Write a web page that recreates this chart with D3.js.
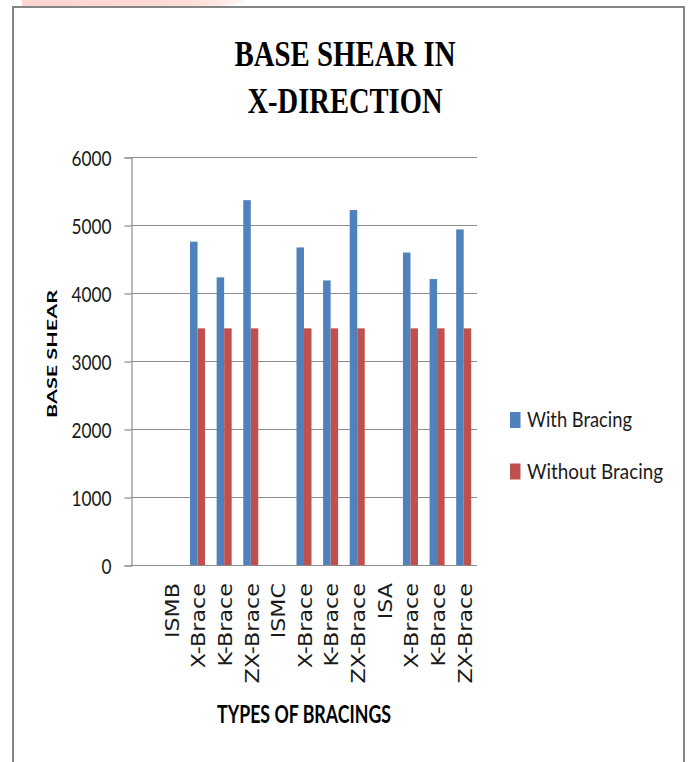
<!DOCTYPE html>
<html>
<head>
<meta charset="utf-8">
<script src="https://cdn.jsdelivr.net/npm/d3@7"></script>
<style>
  html, body { margin: 0; padding: 0; background: #fff; }
  svg { display: block; }
</style>
</head>
<body>
<script>
// ---- data ----
const categories = ["", "ISMB", "X-Brace", "K-Brace", "ZX-Brace", "ISMC", "X-Brace", "K-Brace", "ZX-Brace", "ISA", "X-Brace", "K-Brace", "ZX-Brace"];
const withBracing    = [null, null, 4755, 4230, 5365, null, 4670, 4185, 5220, null, 4595, 4205, 4935];
const withoutBracing = [null, null, 3480, 3480, 3480, null, 3480, 3480, 3480, null, 3480, 3480, 3480];
const seriesNames = ["With Bracing", "Without Bracing"];
const seriesColors = ["#4F81BD", "#C0504D"];
const yTicks = [0, 1000, 2000, 3000, 4000, 5000, 6000];
const titleLines = ["BASE SHEAR IN", "X-DIRECTION"];
const yTitle = "BASE SHEAR";
const xTitle = "TYPES OF BRACINGS";

const W = 689, H = 762;
const svg = d3.select("body").append("svg").attr("width", W).attr("height", H);

// faint header mark along the top edge
const pink = svg.append("defs").append("linearGradient").attr("id", "hdr");
pink.append("stop").attr("offset", "0%").attr("stop-color", "#ffd6cf");
pink.append("stop").attr("offset", "75%").attr("stop-color", "#ffdcd6");
pink.append("stop").attr("offset", "100%").attr("stop-color", "#fff4f2");
svg.append("path")
  .attr("d", "M22,0 L244,0 Q236,6 212,6 L22,6 Z")
  .attr("fill", "url(#hdr)");

// outer frame
const frame = svg.append("g").attr("stroke", "#858585").attr("stroke-width", 2).attr("fill", "none");
frame.append("path").attr("d", `M13,${H} L13,7 L684,7 L684,${H}`);

// ---- scales ----
const plot = { left: 131, right: 477, top: 157, bottom: 565 };
const y = d3.scaleLinear().domain([0, 6000]).range([plot.bottom, plot.top]);
const x0 = d3.scaleBand().domain(d3.range(categories.length))
  .range([plot.left, plot.right]).paddingInner(0.436).paddingOuter(0.218);
const x1 = d3.scaleBand().domain([0, 1]).range([0, x0.bandwidth()]);

// gridlines
svg.append("g").selectAll("line").data(yTicks).join("line")
  .attr("x1", plot.left).attr("x2", plot.right)
  .attr("y1", d => Math.round(y(d)) + 0.5).attr("y2", d => Math.round(y(d)) + 0.5)
  .attr("stroke", "#8c8c8c").attr("stroke-width", 1.2);

// y axis
const yAxis = svg.append("g").attr("transform", `translate(${plot.left + 0.5},0.5)`)
  .call(d3.axisLeft(y).tickValues(yTicks).tickSize(7).tickPadding(13).tickFormat(d3.format("d")));
yAxis.select(".domain").attr("stroke", "#8c8c8c").attr("stroke-width", 1.2);
yAxis.selectAll(".tick line").attr("stroke", "#8c8c8c").attr("stroke-width", 1.2);
yAxis.selectAll(".tick text")
  .attr("font-family", "Lato, 'Liberation Sans', sans-serif")
  .attr("font-size", 21).attr("fill", "#1a1a1a")
  .attr("dy", "0.38em")
  .attr("textLength", d => String(d).length * 10)
  .attr("lengthAdjust", "spacingAndGlyphs");

// bars
const seriesData = [withBracing, withoutBracing];
const groups = svg.append("g").selectAll("g").data(seriesData).join("g")
  .attr("fill", (d, i) => seriesColors[i]);
groups.each(function(vals, s) {
  d3.select(this).selectAll("rect")
    .data(vals.map((v, i) => ({ v, i })).filter(d => d.v != null))
    .join("rect")
    .attr("x", d => x0(d.i) + x1(s))
    .attr("width", x1.bandwidth())
    .attr("y", d => y(d.v))
    .attr("height", d => y(0) - y(d.v));
});

// category labels, rotated
const xLab = svg.append("g").selectAll("text").data(categories.map((c, i) => ({ c, i })).filter(d => d.c !== ""))
  .join("text")
  .attr("transform", d => `translate(${x0(d.i) + x0.bandwidth() / 2 + 1},583) rotate(-90)`)
  .attr("text-anchor", "end")
  .attr("dy", "0.36em")
  .attr("font-family", "'DejaVu Sans', Verdana, sans-serif")
  .attr("font-size", 19)
  .attr("fill", "#1a1a1a")
  .text(d => d.c);
xLab.each(function() {
  const len = this.getComputedTextLength();
  d3.select(this).attr("textLength", len * 1.17).attr("lengthAdjust", "spacingAndGlyphs");
});

// title
svg.append("g").selectAll("text").data(titleLines).join("text")
  .attr("x", 345).attr("y", (d, i) => 66 + i * 47)
  .attr("text-anchor", "middle")
  .attr("font-family", "'Liberation Serif', 'Times New Roman', serif")
  .attr("font-weight", "bold").attr("font-size", 36).attr("fill", "#000")
  .attr("textLength", (d, i) => [221, 195][i])
  .attr("lengthAdjust", "spacingAndGlyphs")
  .text(d => d);

// axis titles
svg.append("text")
  .attr("transform", "translate(57,354) rotate(-90)")
  .attr("text-anchor", "middle")
  .attr("font-family", "Lato, 'Liberation Sans', sans-serif")
  .attr("font-weight", "bold").attr("font-size", 14).attr("fill", "#000")
  .attr("textLength", 128).attr("lengthAdjust", "spacingAndGlyphs")
  .text(yTitle);

svg.append("text")
  .attr("transform", "translate(304,723) scale(1,1.3)")
  .attr("text-anchor", "middle")
  .attr("font-family", "Lato, 'Liberation Sans', sans-serif")
  .attr("font-weight", "bold").attr("font-size", 19).attr("fill", "#000")
  .attr("textLength", 174).attr("lengthAdjust", "spacingAndGlyphs")
  .text(xTitle);

// legend
const legend = svg.append("g");
const legendRows = seriesNames.map((n, i) => ({ n, i }));
legend.selectAll("rect").data(legendRows).join("rect")
  .attr("x", 510).attr("y", d => 412 + d.i * 51.5)
  .attr("width", 10.5).attr("height", 16)
  .attr("fill", d => seriesColors[d.i]);
legend.selectAll("text").data(legendRows).join("text")
  .attr("x", 527).attr("y", d => 427 + d.i * 51.5)
  .attr("font-family", "Lato, 'Liberation Sans', sans-serif")
  .attr("font-size", 21).attr("fill", "#1a1a1a")
  .attr("textLength", d => [105, 136][d.i]).attr("lengthAdjust", "spacingAndGlyphs")
  .text(d => d.n);
</script>
</body>
</html>
